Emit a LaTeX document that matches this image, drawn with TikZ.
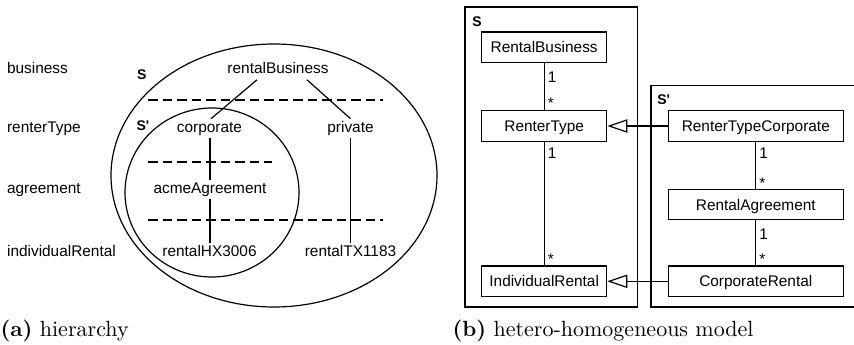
\documentclass[tikz,border=0pt]{standalone}
\usepackage{fontspec}
\newfontfamily\uml{Liberation Sans}
\newfontfamily\capfont{lmroman10-regular}[Extension=.otf, BoldFont=lmroman10-bold]
\usetikzlibrary{arrows.meta}

\begin{document}
\begin{tikzpicture}[x=1pt, y=-1pt, line width=1.2pt,
  umlfont/.style={font=\uml\fontsize{15.4}{18}\selectfont},
  levelname/.style={umlfont, inner sep=0pt, anchor=base west},
  inst/.style={umlfont, inner sep=2pt, text height=11pt, text depth=3.2pt, anchor=base},
  setname/.style={font=\uml\bfseries\fontsize{14}{16}\selectfont, inner sep=0pt, anchor=base west},
  levelsep/.style={dash pattern=on 9.5pt off 5pt},
  cls/.style={draw, umlfont, inner sep=0pt, text height=11pt, text depth=0pt, minimum height=30.5pt},
  clsS/.style={cls, minimum width=125pt},
  clsT/.style={cls, minimum width=175pt},
  mult/.style={umlfont, inner sep=0pt, anchor=base west, xshift=3pt},
  gen/.style={-{Triangle[open, length=20pt, width=13.3pt]}},
  captext/.style={font=\capfont\fontsize{22}{26}\selectfont, inner sep=0pt, anchor=base west}
]
\useasboundingbox (0,0) rectangle (854,345);

% ---------- (a) hierarchy ----------
\node[levelname] (lvB) at (6.5,74)    {business};
\node[levelname] (lvR) at (6.5,132.3) {renterType};
\node[levelname] (lvA) at (6.5,193.3) {agreement};
\node[levelname] (lvI) at (6.5,256.7) {individualRental};

\draw (274,175.5) ellipse [x radius=163pt, y radius=131.5pt];
\draw (212,192.5) ellipse [x radius=87pt, y radius=84.5pt];

\node[setname] (hS)  at (136.5,80)    {S};
\node[setname] (hSp) at (136,130.7)   {S'};

\draw[levelsep] (148,100) -- (383,100);
\draw[levelsep] (148,162) -- (272,162);
\draw[levelsep] (148,220) -- (383,220);

\node[inst] (rb)   at (278,74)      {rentalBusiness};
\node[inst] (corp) at (209.5,132.3) {corporate};
\node[inst] (priv) at (350.5,132.3) {private};
\node[inst] (acme) at (210,193.3)   {acmeAgreement};
\node[inst] (hx)   at (209.5,256.7) {rentalHX3006};
\node[inst] (tx)   at (350.5,256.7) {rentalTX1183};

\draw ([xshift=-21pt]rb.south) -- ([xshift=1.5pt]corp.north);
\draw ([xshift=29pt]rb.south) -- (priv.north);
\draw ([xshift=0.5pt]corp.south) -- ([xshift=0.5pt]corp.south |- acme.north);
\draw (acme.south) -- (acme.south |- hx.north);
\draw (priv.south) -- (tx.north);

\node[captext] (capA) at (0,336.7) {\textbf{(a)} hierarchy};

% ---------- (b) hetero-homogeneous model ----------
\draw (465,7) rectangle (637.3,307);
\draw (854,85.7) -- (651,85.7) -- (651,307) -- (854,307);

\node[setname] (mS)  at (471.7,26.7) {S};
\node[setname] (mSp) at (656.7,104)  {S'};

\node[clsS] (RB)  at (544.2,47.2)  {RentalBusiness};
\node[clsS] (RT)  at (544.2,126)   {RenterType};
\node[clsS] (IR)  at (544.2,281.3) {IndividualRental};
\node[clsT] (RTC) at (755.8,126)   {RenterTypeCorporate};
\node[clsT] (RA)  at (755.8,204.5) {RentalAgreement};
\node[clsT] (CR)  at (755.8,281.3) {CorporateRental};

\draw (RB) -- (RT)
  node[mult, pos=0, yshift=-19pt] {1}
  node[mult, pos=1, yshift=1.5pt] {*};
\draw (RT) -- (IR)
  node[mult, pos=0, yshift=-16.5pt] {1}
  node[mult, pos=1, yshift=0.5pt] {*};
\draw (RTC) -- (RA)
  node[mult, pos=0, yshift=-16.5pt] {1}
  node[mult, pos=1, yshift=0.5pt] {*};
\draw (RA) -- (CR)
  node[mult, pos=0, yshift=-19pt] {1}
  node[mult, pos=1, yshift=0.5pt] {*};

\draw[gen] (RTC) -- (RT);
\draw[gen] (CR) -- (IR);

\node[captext] (capB) at (452,336.7) {\textbf{(b)} hetero-homogeneous model};
\end{tikzpicture}
\end{document}
